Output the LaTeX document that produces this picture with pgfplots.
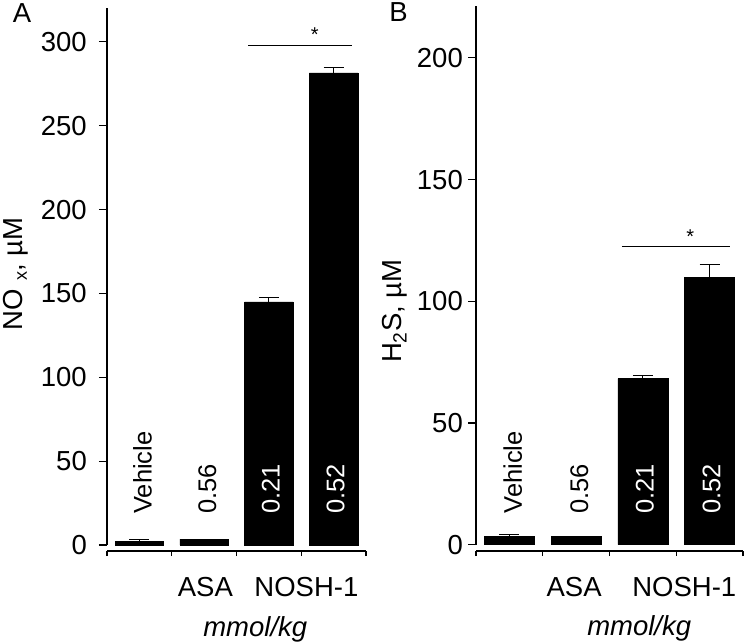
\documentclass[border=0pt]{standalone}
\usepackage{fontspec}
\setmainfont{Liberation Sans}
\usepackage{pgfplots}
\pgfplotsset{compat=1.18}
\newcommand{\fA}{\fontsize{27.5}{32}\selectfont}
\newcommand{\fB}{\fontsize{25.5}{30}\selectfont}
\newcommand{\fS}{\fontsize{20}{23}\selectfont}
\pgfplotsset{
  myaxis/.style={
    scale only axis, anchor=south west,
    xmin=-0.5, xmax=3.5,
    axis x line*=bottom, axis y line*=left,
    axis line style={line width=1.2pt, black},
    y axis line style={shorten <=6pt},
    xtick={-0.5,0.5,1.5,2.5,3.5}, xticklabels={},
    tick align=outside,
    major tick length=8pt,
    tick style={line width=1.2pt, black},
    xtick style={/pgfplots/major tick length=5pt},
    /pgf/number format/assume math mode=true,
    yticklabel style={font=\fA, inner sep=0pt},
    ylabel style={font=\fA, anchor=center, inner sep=0pt},
    ybar, bar width=0.75,
    clip=false,
  },
  barplot/.style={fill=black, draw=black,
    error bars/.cd, y dir=plus, y explicit,
    error mark options={rotate=90, mark size=10pt, line width=1pt, black},
    error bar style={line width=1pt, black}},
}
\tikzset{blab/.style={font=\fB, rotate=90, anchor=west, inner sep=0pt}}
\begin{document}
\begin{tikzpicture}
\path[use as bounding box] (0pt,0pt) rectangle (744pt,-644pt);
% Panel A
\begin{axis}[myaxis,
  at={(107pt,-551pt)}, width=259pt, height=542.7pt,
  ymin=-3.58, ymax=320,
  ytick={0,50,100,150,200,250,300},
  yticklabel style={xshift=-12pt},
  ylabel={NO\,\,\raisebox{-0.15em}{\fontsize{18}{20}\selectfont x}, µM},
  ylabel style={at={(axis description cs:-0.351,0.5105)}},
]
\addplot[barplot] coordinates {
  (0,2)    +- (0,1)
  (1,3.5)  +- (0,0)
  (2,145)  +- (0,2.5)
  (3,281.5) +- (0,3.5)
};
\node[blab] at (axis cs:0.05,18.5) {Vehicle};
\node[blab] at (axis cs:1.05,18.5) {0.56};
\node[blab, text=white] at (axis cs:2.03,18.5) {0.21};
\node[blab, text=white] at (axis cs:3.03,18.5) {0.52};
\node[font=\fA, anchor=base, yshift=-51.7pt] at (axis cs:1.02,0) {ASA};
\node[font=\fA, anchor=base, yshift=-51.7pt] at (axis cs:2.58,0) {NOSH-1};
\node[font=\fA\itshape, anchor=base, yshift=-91pt] at (axis cs:1.79,0) {mmol/kg};
\draw[line width=0.8pt] (axis cs:1.68,298) -- (axis cs:3.28,298);
\node[font=\fS, anchor=base, yshift=3.5pt] at (axis cs:2.71,298) {*};
\end{axis}
% Panel B
\begin{axis}[myaxis,
  at={(476pt,-551pt)}, width=267pt, height=545pt,
  ymin=-2.6, ymax=221.3,
  ytick={0,50,100,150,200},
  yticklabel style={xshift=-5pt},
  ylabel={H\textsubscript{2}S, µM},
  ylabel style={at={(axis description cs:-0.303,0.44)}},
]
\addplot[barplot] coordinates {
  (0,3.4)   +- (0,0.7)
  (1,3.4)   +- (0,0)
  (2,68.2)  +- (0,1.1)
  (3,109.9) +- (0,5.4)
};
\node[blab] at (axis cs:0.05,12.7) {Vehicle};
\node[blab] at (axis cs:1.05,12.7) {0.56};
\node[blab, text=white] at (axis cs:2.03,12.7) {0.21};
\node[blab, text=white] at (axis cs:3.03,12.7) {0.52};
\node[font=\fA, anchor=base, yshift=-51.7pt] at (axis cs:0.97,0) {ASA};
\node[font=\fA, anchor=base, yshift=-51.7pt] at (axis cs:2.62,0) {NOSH-1};
\node[font=\fA\itshape, anchor=base, yshift=-91pt] at (axis cs:1.945,0) {mmol/kg};
\draw[line width=0.8pt] (axis cs:1.687,122.6) -- (axis cs:3.305,122.6);
\node[font=\fS, anchor=base, yshift=3.2pt] at (axis cs:2.71,122.6) {*};
\end{axis}
\node[font=\fA] at (22pt,-12.8pt) {A};
\node[font=\fA] at (398.5pt,-12pt) {B};
\end{tikzpicture}
\end{document}
